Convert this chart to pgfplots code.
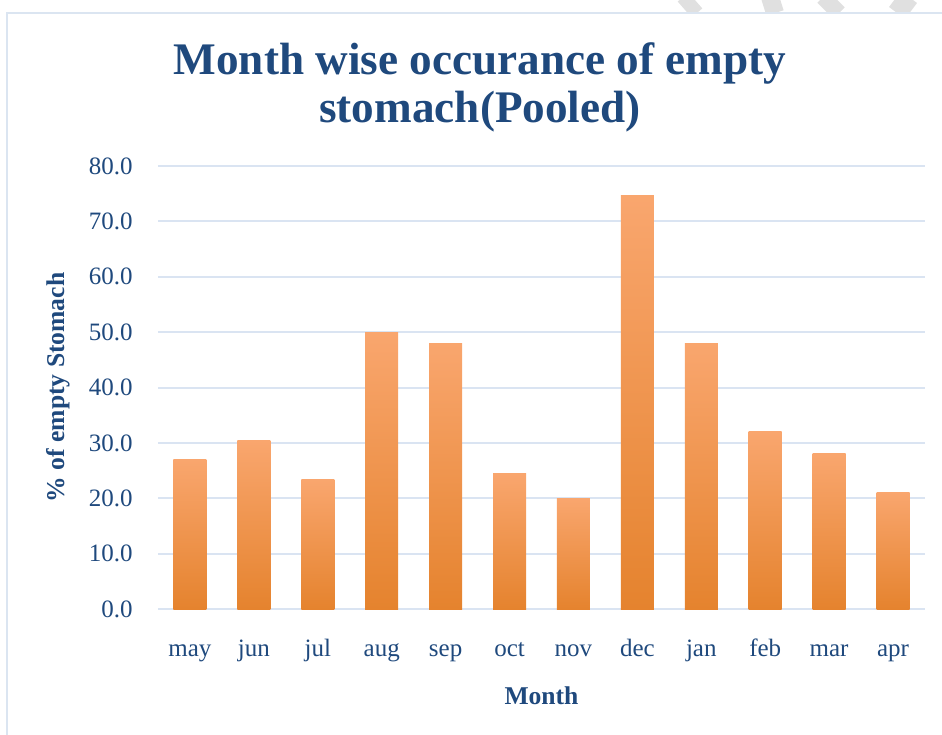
\documentclass[border=0pt]{standalone}
\usepackage{pgfplots}
\pgfplotsset{compat=1.18}
\usepackage{fontspec}
\setmainfont{Liberation Serif}
\definecolor{txtblue}{HTML}{1F497D}
\definecolor{gridblue}{HTML}{DAE4F2}
\definecolor{framblue}{HTML}{DBE5F1}
\definecolor{wmgray}{HTML}{E0E0E0}
\definecolor{bartop}{HTML}{F9A66E}
\definecolor{barmid}{HTML}{FF9A40}
\definecolor{barbot}{HTML}{E5832E}

% one bar per plot so that every bar gets its own gradient
\pgfplotsset{obar/.style={ybar, bar width=16.5pt, bar shift=0pt, draw=none,
    top color=bartop, middle color=barmid, bottom color=barbot}}

\begin{document}
\begin{tikzpicture}
% page size: 942x734 px at 0.5pt per px, axis corner at (158px,609px)
\useasboundingbox (-79pt,-62.5pt) rectangle (392pt,304.5pt);

% faint watermark strokes above the chart frame
\begin{scope}
\clip (-79pt,298pt) rectangle (392pt,306pt);
\draw[wmgray, line width=7pt] (262.5pt,306pt) -- (269.5pt,298pt);
\draw[wmgray, line width=9pt] (306pt,306pt) -- (308.5pt,298pt);
\draw[wmgray, line width=8pt] (332.5pt,306pt) -- (340.5pt,298pt);
\draw[wmgray, line width=10pt] (375.5pt,306pt) -- (369.5pt,298pt);
\end{scope}
\draw[framblue, line width=1pt] (-75.5pt,-63pt) -- (-75.5pt,298pt) -- (393pt,298pt);

% title
\node[anchor=base, text=txtblue, font=\fontsize{22.6}{24}\selectfont\bfseries]
  at (161pt,267pt) {Month wise occurance of empty};
\node[anchor=base, text=txtblue, font=\fontsize{22.6}{24}\selectfont\bfseries]
  at (161pt,243pt) {stomach(Pooled)};

\begin{axis}[
    scale only axis,
    width=383.5pt,
    height=221.5pt,
    xmin=-0.5, xmax=11.5,
    ymin=0, ymax=80,
    ytick={0,10,...,80},
    xtick={0,...,11},
    xticklabels={may,jun,jul,aug,sep,oct,nov,dec,jan,feb,mar,apr},
    yticklabel={\pgfmathprintnumber[fixed,fixed zerofill,precision=1]{\tick}},
    /pgf/number format/assume math mode=true,
    axis line style={draw=none},
    major tick length=0pt,
    ymajorgrids,
    grid style={gridblue, line width=1pt},
    tick label style={text=txtblue, font=\fontsize{12.5}{14}\selectfont},
    yticklabel style={anchor=east, inner sep=0pt, xshift=-12.5pt},
    xticklabel style={anchor=base, inner sep=0pt, yshift=-23.5pt},
    xlabel={Month},
    ylabel={\% of empty Stomach},
    label style={text=txtblue, font=\fontsize{12.8}{14}\selectfont\bfseries},
    xlabel style={at={(axis description cs:0.5,0)}, anchor=base, inner sep=0pt, yshift=-47.5pt},
    ylabel style={at={(axis description cs:-0.1304,0.5)}, anchor=center, inner sep=0pt},
    clip=false,
]
\addplot[obar] coordinates {(0,27.0)};
\addplot[obar] coordinates {(1,30.5)};
\addplot[obar] coordinates {(2,23.3)};
\addplot[obar] coordinates {(3,50.0)};
\addplot[obar] coordinates {(4,48.0)};
\addplot[obar] coordinates {(5,24.4)};
\addplot[obar] coordinates {(6,20.0)};
\addplot[obar] coordinates {(7,74.6)};
\addplot[obar] coordinates {(8,48.0)};
\addplot[obar] coordinates {(9,32.0)};
\addplot[obar] coordinates {(10,28.0)};
\addplot[obar] coordinates {(11,21.1)};
\end{axis}
\end{tikzpicture}
\end{document}
